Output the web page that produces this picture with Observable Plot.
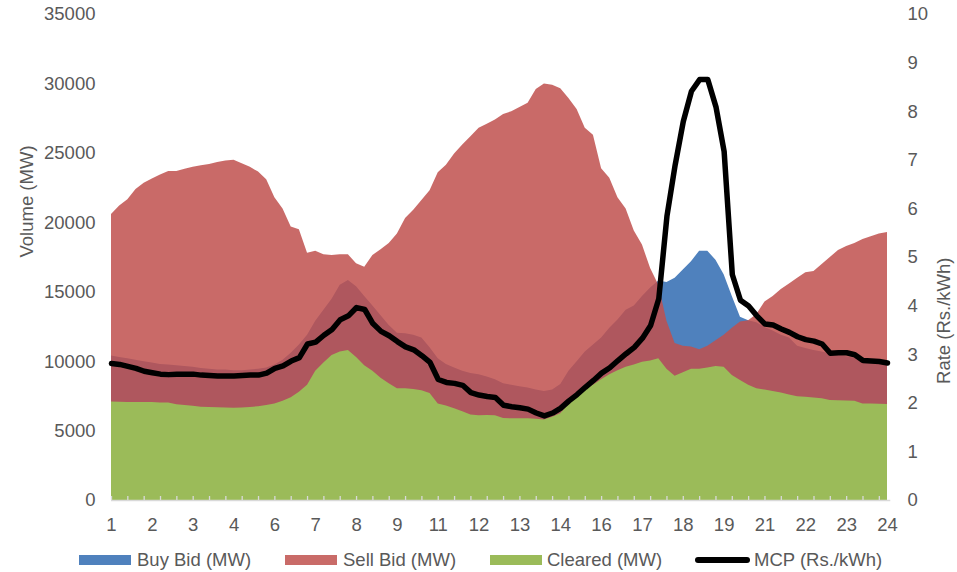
<!DOCTYPE html>
<html>
<head>
<meta charset="utf-8">
<script src="https://cdn.jsdelivr.net/npm/d3@7"></script>
<script src="https://cdn.jsdelivr.net/npm/@observablehq/plot@0.6"></script>
<style>
  body { margin: 0; background: #fff; font-family: "Liberation Sans", Arial, sans-serif; }
  #chart { position: relative; width: 957px; height: 572px; }
  .legend { position: absolute; top: 545px; left: 0; width: 957px; height: 27px; }
  .sw { position: absolute; top: 10px; width: 52px; height: 10px; }
  .ln { position: absolute; top: 12px; width: 55px; height: 6px; border-radius: 3px; background: #000; }
  .lt { position: absolute; top: 4px; font-size: 18.5px; color: #595959; line-height: 22px; white-space: nowrap; }
</style>
</head>
<body>
<div id="chart"></div>
<script>
// 96 fifteen-minute blocks of the day
const blocks = d3.range(1, 97);

const buyBid = [
  10400, 10300, 10200, 10100, 10000, 9900, 9800, 9750, 9700, 9650,
  9600, 9500, 9450, 9400, 9400, 9350, 9350, 9400, 9450, 9550,
  9750, 10100, 10600, 11200, 11900, 12900, 13700, 14500, 15500, 15850,
  15400, 14700, 14000, 13300, 12600, 12050, 12000, 11900, 11700, 11000,
  10200, 9800, 9550, 9300, 9150, 9050, 8900, 8700, 8400, 8300,
  8200, 8100, 7950, 7850, 7950, 8350, 9300, 10000, 10700, 11200,
  11700, 12400, 13000, 13700, 14000, 14700, 15300, 15800, 15700, 16000,
  16600, 17200, 17950, 17950, 17300, 16250, 14700, 13200, 12950, 12800,
  12450, 12200, 11900, 11700, 11100, 10950, 10800, 10700, 10550, 10450,
  10350, 10250, 10150, 10050, 10000, 9900
];

const sellBid = [
  20600, 21200, 21650, 22400, 22850, 23150, 23450, 23700, 23700, 23850,
  24000, 24100, 24200, 24350, 24450, 24500, 24250, 24000, 23650, 23100,
  21800, 21000, 19700, 19500, 17800, 17950, 17700, 17650, 17700, 17700,
  17050, 16800, 17650, 18050, 18500, 19200, 20300, 20900, 21600, 22300,
  23600, 24150, 24950, 25600, 26200, 26800, 27100, 27400, 27800, 28000,
  28300, 28600, 29600, 30000, 29900, 29650, 28950, 28150, 26800, 26300,
  23900, 23200, 21800, 21000, 19400, 18400, 16700, 15500, 12900, 11300,
  11100, 11050, 10850, 11100, 11500, 11900, 12400, 12850, 12950, 13400,
  14300, 14700, 15200, 15600, 16000, 16400, 16500, 17000, 17500, 18000,
  18300, 18500, 18800, 19000, 19200, 19300
];

const cleared = [
  7100, 7080, 7050, 7050, 7050, 7050, 7030, 7030, 6900, 6840,
  6780, 6720, 6700, 6680, 6660, 6650, 6660, 6700, 6750, 6850,
  6950, 7150, 7400, 7800, 8300, 9300, 9900, 10450, 10700, 10800,
  10300, 9700, 9300, 8800, 8400, 8050, 8050, 8000, 7900, 7700,
  6950, 6800, 6600, 6400, 6150, 6100, 6120, 6100, 5900, 5880,
  5880, 5880, 5850, 5800, 6000, 6250, 6950, 7500, 8000, 8300,
  8700, 9050, 9350, 9600, 9750, 9950, 10050, 10200, 9450, 8950,
  9200, 9450, 9450, 9550, 9650, 9600, 9000, 8650, 8300, 8050,
  7950, 7850, 7750, 7600, 7480, 7430, 7380, 7330, 7200, 7180,
  7160, 7150, 6950, 6950, 6930, 6910
];

const mcp = [
  2.82, 2.80, 2.76, 2.72, 2.66, 2.63, 2.60, 2.59, 2.60, 2.60,
  2.60, 2.58, 2.57, 2.56, 2.56, 2.56, 2.57, 2.58, 2.58, 2.62,
  2.72, 2.77, 2.87, 2.94, 3.22, 3.26, 3.40, 3.52, 3.72, 3.80,
  3.97, 3.93, 3.64, 3.48, 3.39, 3.27, 3.16, 3.10, 2.98, 2.84,
  2.49, 2.43, 2.41, 2.37, 2.22, 2.17, 2.14, 2.12, 1.96, 1.93,
  1.91, 1.88, 1.80, 1.74, 1.80, 1.90, 2.05, 2.18, 2.33, 2.47,
  2.62, 2.73, 2.88, 3.02, 3.15, 3.34, 3.60, 4.15, 5.85, 6.90,
  7.80, 8.42, 8.66, 8.66, 8.10, 7.18, 4.65, 4.12, 4.00, 3.80,
  3.63, 3.61, 3.53, 3.46, 3.37, 3.31, 3.28, 3.22, 3.03, 3.04,
  3.04, 3.00, 2.88, 2.87, 2.86, 2.83
];

// x tick labels (category axis labelled every 5th block with its hour)
const xTickBlocks = [1, 6, 11, 16, 21, 26, 31, 36, 41, 46, 51, 56, 61, 66, 71, 76, 81, 86, 91, 96];
const xTickLabels = [1, 2, 3, 4, 6, 7, 8, 9, 11, 12, 13, 14, 16, 17, 18, 19, 21, 22, 23, 24];
const xMinorTicks = d3.range(1, 97, 2);

const volumeTicks = [0, 5000, 10000, 15000, 20000, 25000, 30000, 35000];
const rateTicks = [0, 1, 2, 3, 4, 5, 6, 7, 8, 9, 10];
const volumeMax = 35000, rateMax = 10;
const k = volumeMax / rateMax; // rate -> volume axis factor

const data = blocks.map((b, i) => ({
  block: b, buy: buyBid[i], sell: sellBid[i], cleared: cleared[i], mcp: mcp[i] * k
}));

const grey = "#595959";
const fs = "18.5px";

const chart = Plot.plot({
  width: 957,
  height: 545,
  marginLeft: 111,
  marginRight: 70,
  marginTop: 14,
  marginBottom: 45,
  style: { fontFamily: "Liberation Sans, Arial, sans-serif", fontSize: fs, color: grey, background: "#fff", overflow: "visible" },
  x: { type: "linear", domain: [1, 96] },
  y: { domain: [0, volumeMax] },
  marks: [
    Plot.areaY(data, { x: "block", y: "buy", fill: "#4F81BD" }),
    Plot.areaY(data, { x: "block", y: "sell", fill: "#C0504D", fillOpacity: 0.85 }),
    Plot.areaY(data, { x: "block", y: "cleared", fill: "#9BBB59" }),
    Plot.ruleY([0], { x1: 1, x2: 96.4, stroke: "#D9D9D9", strokeWidth: 1.5 }),
    Plot.tickX(xMinorTicks, { x: d => d, stroke: "#D9D9D9", strokeWidth: 1.3, insetTop: 482 }),
    Plot.axisX(xTickBlocks, { anchor: "bottom", tickSize: 0, tickPadding: 17, tickFormat: (d) => xTickLabels[xTickBlocks.indexOf(d)], fill: grey, fontSize: fs, label: null }),
    Plot.axisY(volumeTicks, { anchor: "left", tickSize: 0, tickPadding: 16, tickFormat: d => String(d), fill: grey, fontSize: fs, label: null }),
    Plot.axisY(rateTicks.map(r => r * k), { anchor: "right", tickSize: 0, tickPadding: 20, tickFormat: d => String(Math.round(d / k)), fill: grey, fontSize: fs, label: null }),
    Plot.text(["Volume (MW)"], { frameAnchor: "left", rotate: -90, dx: -84, fill: grey, fontSize: fs }),
    Plot.text(["Rate (Rs./kWh)"], { frameAnchor: "right", rotate: -90, dx: 57, fill: grey, fontSize: fs }),
    Plot.lineY(data, { x: "block", y: "mcp", stroke: "#000", strokeWidth: 5.5, strokeLinejoin: "round", strokeLinecap: "round" })
  ]
});

const root = document.getElementById("chart");
root.appendChild(chart);

const legendItems = [
  { label: "Buy Bid (MW)", type: "swatch", color: "#4F81BD", x: 79, tx: 137 },
  { label: "Sell Bid (MW)", type: "swatch", color: "#C96B68", x: 285, tx: 343 },
  { label: "Cleared (MW)", type: "swatch", color: "#9BBB59", x: 490, tx: 547 },
  { label: "MCP (Rs./kWh)", type: "line", color: "#000", x: 695, tx: 754 }
];
const legend = document.createElement("div");
legend.className = "legend";
for (const it of legendItems) {
  const m = document.createElement("div");
  m.className = it.type === "line" ? "ln" : "sw";
  m.style.left = it.x + "px";
  m.style.background = it.color;
  legend.appendChild(m);
  const t = document.createElement("div");
  t.className = "lt";
  t.style.left = it.tx + "px";
  t.textContent = it.label;
  legend.appendChild(t);
}
root.appendChild(legend);
</script>
</body>
</html>
